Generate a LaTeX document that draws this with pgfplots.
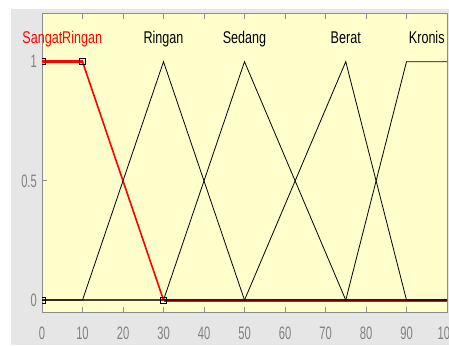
\documentclass[border=0pt]{standalone}
\usepackage{fontspec}
\usepackage{pgfplots}
\pgfplotsset{compat=1.18}
\newfontfamily\ticfont[FakeStretch=0.62]{Liberation Sans}
\newfontfamily\mffont[FakeStretch=0.74]{Liberation Sans}
\definecolor{bggray}{HTML}{E6E6E6}
\definecolor{plotbg}{HTML}{FFFFCC}
\definecolor{axgray}{HTML}{8C8C8C}
\definecolor{ticgray}{HTML}{808080}
\definecolor{mfred}{HTML}{FF0000}
\begin{document}
\begin{tikzpicture}[x=1pt,y=1pt]
\fill[white] (-42,-33) rectangle (407,312);
\fill[bggray] (-31,-33) rectangle (407,303);
\begin{axis}[at={(0,0)},anchor=south west, scale only axis, width=405pt, height=298pt,
 xmin=0,xmax=100,ymin=-0.05,ymax=1.2,
 xtick={0,10,...,100}, ytick={0,0.5,1},
 tick align=inside, xtick pos=both, ytick pos=left,
 major tick length=5pt,
 clip mode=individual,
 clip marker paths=true,
 axis line style={axgray, line width=1pt},
 every tick/.style={axgray, line width=0.8pt},
 axis background/.style={fill=plotbg},
 tick label style={font=\ticfont\fontsize{18}{18}\selectfont, text=ticgray, inner sep=0pt},
 /pgf/number format/assume math mode=true,
 xticklabel style={yshift=-15pt},
 yticklabel style={xshift=-5pt},
 ]
\addplot[mfred, line width=3pt] coordinates {(0,1)(10,1)};
\addplot[mfred, line width=1.6pt] coordinates {(10,1)(30,0)};
\addplot[mfred, line width=3pt] coordinates {(30,0)(100,0)};
\addplot[black, line width=0.8pt] coordinates {(0,0)(10,0)(30,1)(50,0)(100,0)};
\addplot[black, line width=0.8pt] coordinates {(0,0)(30,0)(50,1)(75,0)(100,0)};
\addplot[black, line width=0.8pt] coordinates {(0,0)(50,0)(75,1)(90,0)(100,0)};
\addplot[black, line width=0.8pt] coordinates {(0,0)(75,0)(90,1)(100,1)};
\addplot[only marks, mark=square, mark size=3pt, black, mark options={line width=0.8pt}] coordinates {(0,0)(0,1)(10,1)(30,0)};
\coordinate (l1) at (axis cs:5,1.078);
\coordinate (l2) at (axis cs:30,1.078);
\coordinate (l3) at (axis cs:50,1.078);
\coordinate (l4) at (axis cs:75,1.078);
\coordinate (l5) at (axis cs:95,1.078);
\end{axis}
\node[font=\mffont\fontsize{17}{17}\selectfont, text=mfred, anchor=base] at (l1) {SangatRingan};
\node[font=\mffont\fontsize{17}{17}\selectfont, anchor=base] at (l2) {Ringan};
\node[font=\mffont\fontsize{17}{17}\selectfont, anchor=base] at (l3) {Sedang};
\node[font=\mffont\fontsize{17}{17}\selectfont, anchor=base] at (l4) {Berat};
\node[font=\mffont\fontsize{17}{17}\selectfont, anchor=base] at (l5) {Kronis};
\pgfresetboundingbox
\path[use as bounding box] (-42,-33) rectangle (407,312);
\end{tikzpicture}
\end{document}
